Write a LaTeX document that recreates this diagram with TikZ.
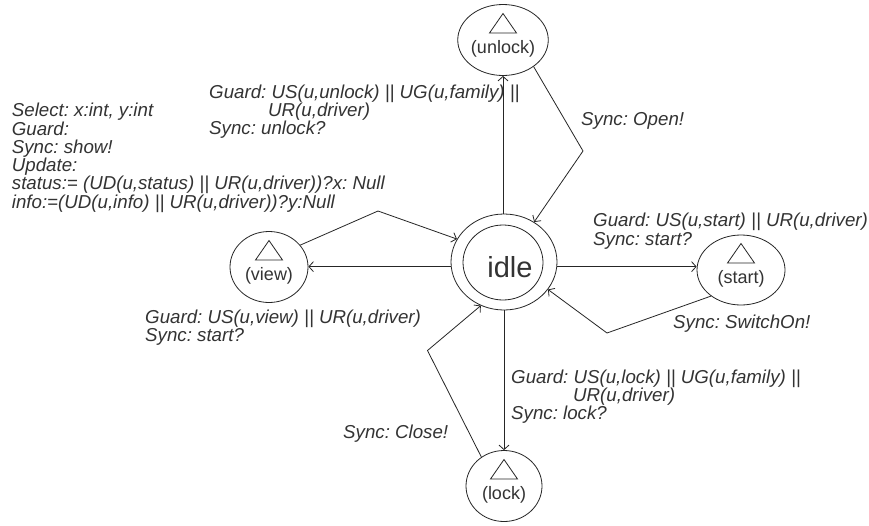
\documentclass[tikz,border=0pt]{standalone}
\usepackage{fontspec}
\setmainfont{Liberation Sans}
\usetikzlibrary{arrows.meta,shapes.geometric}

\begin{document}
\begin{tikzpicture}[x=1pt,y=-1pt,
  ink/.style={draw=black!85, line width=0.8pt},
  arr/.style={ink, -{Straight Barb[length=4.5pt,width=10pt]}},
  state/.style={ellipse, ink, inner sep=0pt, minimum width=78pt, minimum height=71pt,
    font=\fontsize{18}{18}\selectfont, text=black!80, text height=27.5pt, text depth=0pt,
    path picture={\draw[black!85, line width=0.8pt]
      ([shift={(-13.5,-7)}]path picture bounding box.center) -- ++(27,0) -- ++(-13.5,-19.5) -- cycle;}},
  % multi-line labels are placed by the baseline of their last line
  lbl/.style={font=\fontsize{18.7}{18.3}\selectfont\itshape\frenchspacing, text=black!80, align=left,
    inner sep=0pt, anchor=base west}
]
\fill[white] (0,0) rectangle (869,525);
\useasboundingbox (0,0) rectangle (869,525);

% central location
\node[ellipse, ink, minimum width=106pt, minimum height=96pt, inner sep=0pt] (idle) at (504,262) {};
\node[ellipse, ink, minimum width=80pt, minimum height=75pt, inner sep=0pt] (idlein) at (503,262.5) {};
\node[font=\fontsize{29}{29}\selectfont, text=black!80, inner sep=0pt] (idlelbl) at (510,267) {idle};

% surrounding locations
\node[state] (unlock) at (503,40) {(unlock)};
\node[state] (view) at (269,267) {(view)};
\node[state, minimum width=88pt, minimum height=70pt] (start) at (741,270) {(start)};
\node[state, minimum width=76pt] (lock) at (504,486) {(lock)};

% bend points of the return edges
\coordinate (cu) at (583,151);
\coordinate (cv) at (378,211);
\coordinate (cs) at (607,333);
\coordinate (cl) at (427.5,350.5);

% outgoing edges
\draw[arr] (unlock |- idle.north) -- (unlock.south);
\draw[arr] (lock |- idle.south) -- (lock.north);
\draw[arr] (idle.-5) -- (idle.-5 -| start.west);
\draw[arr] (idle.-175) -- (idle.-175 -| view.east);

% returning edges
\draw[arr] (unlock.-41) -- (cu) -- (idle.53);
\draw[arr] (view.35) -- (cv) -- (idle.154);
\draw[arr] (start.-139) -- (cs) -- (idle.-32);
\draw[arr] (lock.128) -- (cl) -- (idle.-118);

% edge labels
\node[lbl] (gunlock) at (209,134.9) {Guard: US(u,unlock) || UG(u,family) ||\\\hspace*{59pt}UR(u,driver)\\Sync: unlock?};
\node[lbl] (sopen) at (581,125) {Sync: Open!};
\node[lbl] (sview) at (11.7,208.2) {Select: x:int, y:int\\Guard:\\Sync: show!\\Update:\\status:= (UD(u,status) || UR(u,driver))?x: Null\\info:=(UD(u,info) || UR(u,driver))?y:Null};
\node[lbl] (gstart) at (593,245) {Guard: US(u,start) || UR(u,driver)\\Sync: start?};
\node[lbl] (sswitch) at (673,328.3) {Sync: SwitchOn!};
\node[lbl] (gview) at (145,341.6) {Guard: US(u,view) || UR(u,driver)\\Sync: start?};
\node[lbl] (glock) at (511,419.9) {Guard: US(u,lock) || UG(u,family) ||\\\hspace*{62pt}UR(u,driver)\\Sync: lock?};
\node[lbl] (sclose) at (343,438) {Sync: Close!};
\end{tikzpicture}
\end{document}
